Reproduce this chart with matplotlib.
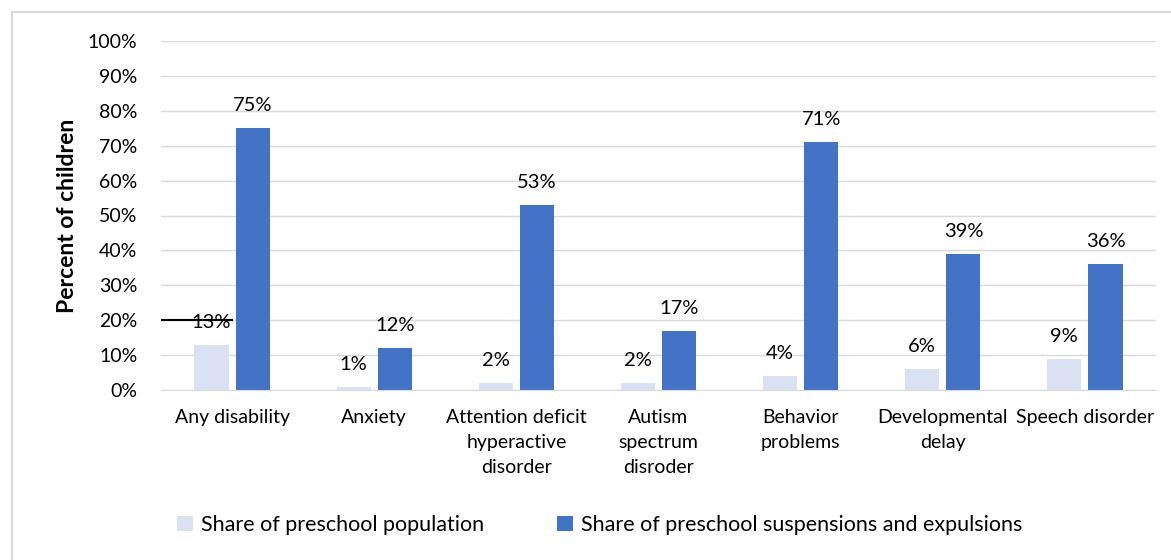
import matplotlib.pyplot as plt
import matplotlib.patches as patches
import numpy as np

categories = ["Any disability", "Anxiety", "Attention deficit\nhyperactive\ndisorder",
              "Autism\nspectrum\ndisroder", "Behavior\nproblems", "Developmental\ndelay",
              "Speech disorder"]
population = [13, 1, 2, 2, 4, 6, 9]
suspensions = [75, 12, 53, 17, 71, 39, 36]
series_names = ["Share of preschool population", "Share of preschool suspensions and expulsions"]
light = "#D9E1F2"
dark = "#4472C4"

plt.rcParams["font.family"] = ["Lato", "DejaVu Sans"]

fig = plt.figure(figsize=(11.71, 5.6), dpi=100)
ax = fig.add_axes([161 / 1171, 1 - 390 / 560, 995 / 1171, 349 / 560])

x = np.arange(len(categories))
w = 0.24
off = 0.145
b1 = ax.bar(x - off, population, w, color=light, label=series_names[0], zorder=2)
b2 = ax.bar(x + off, suspensions, w, color=dark, label=series_names[1], zorder=2)

for bars, vals in ((b1, population), (b2, suspensions)):
    for b, v in zip(bars, vals):
        ax.annotate(f"{v}%", (b.get_x() + b.get_width() / 2, v), xytext=(0, 10),
                    textcoords="offset points", ha="center", va="bottom", fontsize=14.5)

# stray line across the 20% gridline
ax.plot([-0.5, 0.0], [20, 20], color="black", lw=1.5, zorder=3)

ax.set_xlim(-0.5, len(categories) - 0.5)
ax.set_ylim(0, 100)
ax.set_yticks(range(0, 101, 10))
ax.set_yticklabels([f"{t}%" for t in range(0, 101, 10)], fontsize=14)
ax.set_xticks(x)
ax.set_xticklabels(categories, fontsize=14, va="top", linespacing=1.55)
ax.tick_params(length=0)
ax.tick_params(axis="y", pad=17)
ax.tick_params(axis="x", pad=14)
ax.grid(axis="y", color="#D9D9D9", lw=1, zorder=0)
for s in ["top", "right", "left"]:
    ax.spines[s].set_visible(False)
ax.spines["bottom"].set_color("#D9D9D9")
ax.set_ylabel("Percent of children", fontsize=16.5, fontweight="bold", labelpad=7)

fig.legend(loc="center", bbox_to_anchor=(0.512, 1 - 525 / 560), ncol=2, frameon=False,
           fontsize=15.5, handlelength=0.75, handleheight=0.75, handletextpad=0.35,
           columnspacing=3.4)

fig.patches.append(patches.Rectangle((12 / 1171, -0.1), 1.1, 1.1 - 12 / 560,
                                     transform=fig.transFigure, fill=False,
                                     edgecolor="#D9D9D9", lw=1.5))

fig.savefig("out.png", dpi=100)
